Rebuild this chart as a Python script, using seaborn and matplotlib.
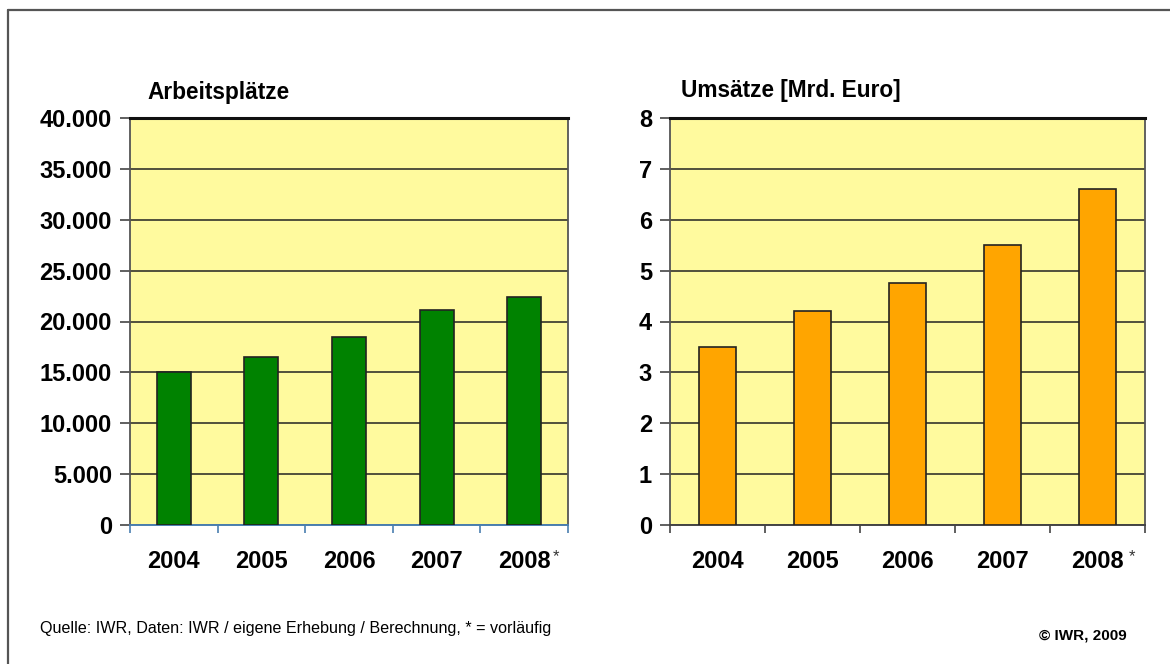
import matplotlib
matplotlib.use("Agg")
import matplotlib.pyplot as plt
from matplotlib.lines import Line2D
from matplotlib.ticker import FixedLocator, FuncFormatter
import seaborn as sns
import pandas as pd

# Data
years = ["2004", "2005", "2006", "2007", "2008"]
jobs = [15000, 16500, 18500, 21100, 22400]
revenue_bn_eur = [3.5, 4.2, 4.75, 5.5, 6.6]

title_jobs = "Arbeitsplätze"
title_revenue = "Umsätze [Mrd. Euro]"
source_note = "Quelle: IWR, Daten: IWR / eigene Erhebung / Berechnung, * = vorläufig"
copyright_note = "© IWR, 2009"

sns.set_style("white")
plt.rcParams["font.family"] = ["Liberation Sans", "DejaVu Sans"]
plt.rcParams["text.color"] = "black"
plt.rcParams["xtick.color"] = "black"
plt.rcParams["ytick.color"] = "black"

W, H = 1170, 664
fig = plt.figure(figsize=(W / 100, H / 100), dpi=100)
fig.patch.set_facecolor("white")


def fx(px):
    return px / W


def fy(py):
    return 1 - py / H


# Outer frame (top and left edge)
fig.add_artist(Line2D([fx(8), 1.0], [fy(10), fy(10)],
                      transform=fig.transFigure, color="#555555", lw=1.6))
fig.add_artist(Line2D([fx(8), fx(8)], [0, fy(10)],
                      transform=fig.transFigure, color="#555555", lw=1.6))

ax1 = fig.add_axes([fx(130), fy(525), 438 / W, 407 / H])
ax2 = fig.add_axes([fx(670), fy(525), 475 / W, 407 / H])

df_jobs = pd.DataFrame({"Jahr": years, "Wert": jobs})
df_rev = pd.DataFrame({"Jahr": years, "Wert": revenue_bn_eur})

panels = [
    (ax1, df_jobs, "#008200", 40000, 5000, "#4a7fb0",
     lambda v, p: f"{v:,.0f}".replace(",", ".")),
    (ax2, df_rev, "#FFA500", 8, 1, "#444444",
     lambda v, p: f"{v:.0f}"),
]

for ax, df, color, ymax, step, xaxis_color, fmt in panels:
    ax.set_facecolor("#FFFA9E")
    sns.barplot(data=df, x="Jahr", y="Wert", color=color, width=0.39,
                edgecolor="#222222", linewidth=1.2, saturation=1, ax=ax,
                zorder=3)
    ax.set_xlim(-0.5, 4.5)
    ax.set_ylim(0, ymax)
    ax.set_xlabel("")
    ax.set_ylabel("")

    yt = [i * step for i in range(int(ymax / step) + 1)]
    ax.yaxis.set_major_locator(FixedLocator(yt))
    ax.yaxis.set_major_formatter(FuncFormatter(fmt))
    ax.grid(axis="y", color="#222222", lw=1.1, zorder=1)
    ax.set_axisbelow(True)

    # category ticks sit between the bars; labels centred under bars
    ax.set_xticks([i + 0.5 for i in range(-1, 5)])
    ax.set_xticklabels([])
    ax.set_xticks(range(5), minor=True)
    ax.set_xticklabels(years, minor=True)
    ax.tick_params(axis="x", which="major", direction="out", length=6,
                   width=1.2, color=xaxis_color, bottom=True)
    ax.tick_params(axis="x", which="minor", length=0, pad=18,
                   labelsize=17)
    for lab in ax.get_xticklabels(minor=True):
        lab.set_fontweight("bold")
    ax.tick_params(axis="y", direction="out", length=7, width=1.2,
                   color="#444444", left=True, pad=6, labelsize=17)
    for lab in ax.get_yticklabels():
        lab.set_fontweight("bold")

    for side in ["left", "right"]:
        ax.spines[side].set_color("#555555")
        ax.spines[side].set_linewidth(1.3)
    ax.spines["top"].set_color("#111111")
    ax.spines["top"].set_linewidth(2.2)
    ax.spines["bottom"].set_color(xaxis_color)
    ax.spines["bottom"].set_linewidth(1.4)

# asterisks marking the provisional year
fig.text(fx(556), fy(557), "*", fontsize=12, ha="center", va="center",
         color="#333333")
fig.text(fx(1132), fy(557), "*", fontsize=12, ha="center", va="center",
         color="#333333")

# panel titles
fig.text(fx(147), fy(93), title_jobs, fontsize=16.3, fontweight="bold",
         ha="left", va="center")
fig.text(fx(681), fy(91), title_revenue, fontsize=16.3, fontweight="bold",
         ha="left", va="center")

fig.text(fx(40), fy(628), source_note, fontsize=11.6,
         ha="left", va="center")
fig.text(fx(1127), fy(636), copyright_note, fontsize=11,
         ha="right", va="center", fontweight="bold")

fig.savefig("out.png", dpi=100, facecolor="white")
